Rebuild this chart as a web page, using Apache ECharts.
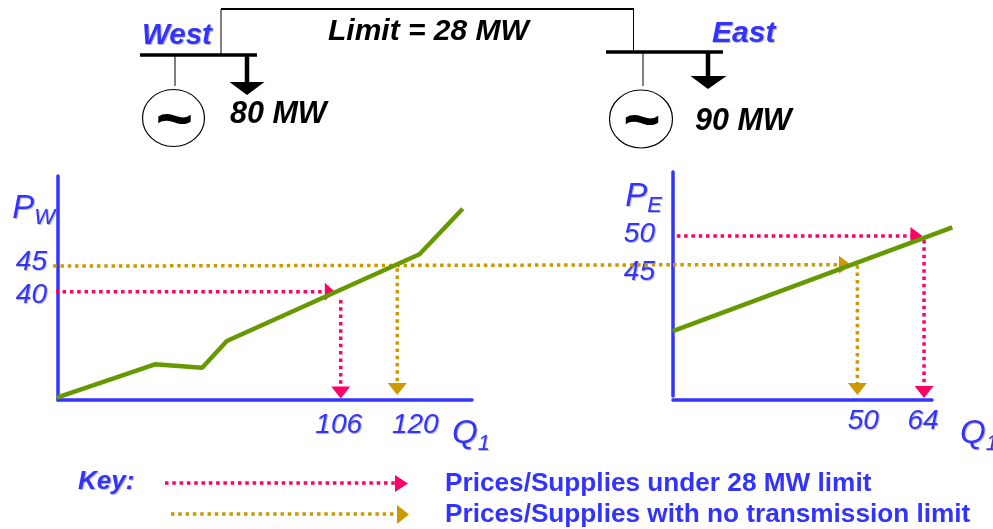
<!DOCTYPE html>
<html>
<head>
<meta charset="utf-8">
<style>
  html, body { margin: 0; padding: 0; background: #fff; }
  #chart { width: 993px; height: 529px; }
</style>
<script src="https://cdn.jsdelivr.net/npm/echarts@6/dist/echarts.min.js"></script>
</head>
<body>
<div id="chart"></div>
<script>
// supply curves
const westCurveQ = [35.7, 60.0, 71.7, 77.8, 125.5, 136.2]
const westCurveP = [19.45, 25.93, 25.27, 30.46, 47.3, 56.15]
const eastCurveQ = [11.24, 69.93]
const eastCurveP = [33.45, 51.52]

// tick labels
const westPriceTicks = [45, 40]
const westSupplyTicks = [106, 120]
const eastPriceTicks = [50, 45]
const eastSupplyTicks = [50, 64]

// dotted guides: limited case (pink)
const westLimitedAcrossQ = [35.33, 103.3]
const westLimitedAcrossP = [40, 40]
const westLimitedDownQ = [106, 106]
const westLimitedDownP = [38.42, 20.46]
const eastLimitedAcrossQ = [12.1, 62.4]
const eastLimitedAcrossP = [50, 50]
const eastLimitedDownQ = [64, 64]
const eastLimitedDownP = [49.3, 22.83]

// dotted guides: no limit case (brown), the price line runs across both panels
const westOpenAcrossQ = [34.8, 188.3]
const westOpenAcrossP = [45, 45.25]
const westOpenDownQ = [120, 120]
const westOpenDownP = [44.6, 21.14]
const eastOpenAcrossQ = [11.3, 47.4]
const eastOpenAcrossP = [45, 45]
const eastOpenDownQ = [50, 50]
const eastOpenDownP = [44.9, 23.35]

const BLUE = '#3333ff'
const PINK = '#ff0066'
const BROWN = '#cc9900'
const GREEN = '#669900'
const FONT = '"Liberation Sans", Arial, sans-serif'

const shadow = {
  textShadowColor: 'rgba(0,0,0,0.3)',
  textShadowBlur: 1,
  textShadowOffsetX: 1,
  textShadowOffsetY: 1
}

function zip(xs, ys) {
  return xs.map((x, i) => [x, ys[i]])
}

// dotted line with a triangle on its last point
function guide(gridIndex, xs, ys, color, rotate, size, arrow) {
  const pts = zip(xs, ys)
  return {
    type: 'line',
    xAxisIndex: gridIndex,
    yAxisIndex: gridIndex,
    silent: true,
    z: 2,
    lineStyle: { color: color, width: 3.5, type: [3.5, 3.8] },
    itemStyle: { color: color },
    data: pts.map((p, i) => {
      const last = arrow && i === pts.length - 1
      return {
        value: p,
        symbol: last ? 'triangle' : 'none',
        symbolSize: size,
        symbolRotate: rotate
      }
    })
  }
}

function curve(gridIndex, xs, ys) {
  return {
    type: 'line',
    xAxisIndex: gridIndex,
    yAxisIndex: gridIndex,
    silent: true,
    symbol: 'none',
    z: 3,
    lineStyle: { color: GREEN, width: 4.5, cap: 'butt' },
    data: zip(xs, ys)
  }
}

// shift moves a tick label away from its tick, the labels in the picture are hand placed
function tickRich(shifts) {
  const rich = {}
  Object.keys(shifts).forEach(k => {
    rich['v' + k] = Object.assign({
      fontFamily: FONT, fontStyle: 'italic', fontSize: 28, color: BLUE,
      padding: shifts[k]
    }, shadow)
  })
  return rich
}

function axisName(main, sub) {
  return '{m|' + main + '}{s|' + sub + '}'
}

const nameRich = {
  m: Object.assign({ fontFamily: FONT, fontStyle: 'italic', fontSize: 33, color: BLUE, lineHeight: 37, verticalAlign: 'top' }, shadow),
  s: Object.assign({ fontFamily: FONT, fontStyle: 'italic', fontSize: 22, color: BLUE, lineHeight: 37, verticalAlign: 'bottom' }, shadow)
}

function xAxisOpt(gridIndex, min, max, ticks, shifts, offset, margin) {
  return {
    type: 'value',
    gridIndex: gridIndex,
    min: min,
    max: max,
    offset: offset,
    splitLine: { show: false },
    axisTick: { show: false },
    axisLine: { onZero: false, lineStyle: { color: BLUE, width: 3.5 } },
    axisLabel: {
      customValues: ticks,
      margin: margin,
      formatter: v => '{v' + v + '|' + v + '}',
      rich: tickRich(shifts)
    }
  }
}

function yAxisOpt(gridIndex, min, max, ticks, shifts, margin) {
  return {
    type: 'value',
    gridIndex: gridIndex,
    min: min,
    max: max,
    splitLine: { show: false },
    axisTick: { show: false },
    axisLine: { onZero: false, lineStyle: { color: BLUE, width: 3.5 } },
    axisLabel: {
      customValues: ticks,
      margin: margin,
      formatter: v => '{v' + v + '|' + v + '}',
      rich: tickRich(shifts)
    }
  }
}

// same scale as a panel but wider, for the marks that run past the end of its axis
function hiddenAxis(gridIndex, min, max) {
  return { type: 'value', gridIndex: gridIndex, min: min, max: max, show: false }
}

function bold(text, x, y, color, size, italic) {
  return {
    type: 'text',
    x: x,
    y: y,
    style: Object.assign({
      text: text,
      fill: color,
      font: (italic ? 'italic ' : '') + 'bold ' + size + 'px ' + FONT,
      verticalAlign: 'middle'
    }, italic && color === BLUE ? shadow : {})
  }
}

function wire(x1, y1, x2, y2, width, color, dash) {
  return {
    type: 'line',
    shape: { x1: x1, y1: y1, x2: x2, y2: y2 },
    style: { stroke: color || '#000', lineWidth: width, lineDash: dash }
  }
}

function tri(p1, p2, p3, color) {
  return {
    type: 'polygon',
    shape: { points: [p1, p2, p3] },
    style: { fill: color || '#000' }
  }
}

function generator(cx, cy, rx, ry) {
  return [
    {
      type: 'ellipse',
      shape: { cx: cx, cy: cy, rx: rx, ry: ry },
      style: { fill: '#fff', stroke: '#000', lineWidth: 1.2 }
    },
    {
      type: 'text',
      x: cx + 1,
      y: cy + 4,
      style: {
        text: '~',
        fill: '#000',
        font: 'bold 64px ' + FONT,
        align: 'center',
        verticalAlign: 'middle'
      }
    }
  ]
}

const diagram = [
  wire(221, 9, 634, 9, 2),
  wire(221, 9, 221, 55, 1),
  wire(633.5, 9, 633.5, 52, 1),
  wire(140, 55, 257, 55, 3.5),
  wire(606, 52, 723, 52, 3.5),
  wire(175, 55, 175, 86, 1),
  wire(643, 52, 643, 86, 1),
  wire(247, 55, 247, 83, 4.5),
  tri([229.5, 82], [264.5, 82], [247, 95]),
  wire(708, 52, 708, 77, 4.5),
  tri([690.5, 76], [726.5, 76], [708, 89]),
  ...generator(173.5, 118, 31, 28.5),
  ...generator(641, 119, 31.5, 29),
  bold('West', 142, 36, BLUE, 29.5, true),
  bold('East', 712, 34, BLUE, 30, true),
  bold('Limit = 28 MW', 328, 32, '#000', 30, true),
  bold('80 MW', 230, 115, '#000', 30.5, true),
  bold('90 MW', 695, 122, '#000', 30.5, true),
  bold('Key:', 78, 481.5, BLUE, 26, true),
  wire(165, 483, 396, 483, 3.5, PINK, [3.5, 3.8]),
  tri([395, 475], [395, 492], [408, 483.5], PINK),
  wire(171, 514, 398, 514, 3.5, BROWN, [3.5, 3.8]),
  tri([397, 505], [397, 524], [409, 514.5], BROWN),
  bold('Prices/Supplies under 28 MW limit', 445, 484, BLUE, 26.2, false),
  bold('Prices/Supplies with no transmission limit', 445, 515, BLUE, 26.2, false)
]

const chart = echarts.init(document.getElementById('chart'))

const westX = xAxisOpt(0, 36, 138.5, westSupplyTicks, { 106: [0, 4, 0, 0], 120: [0, 0, 0, 36] }, 0, 11)
westX.name = axisName('Q', '1')
westX.nameLocation = 'end'
westX.nameGap = -20
westX.nameMoveOverlap = false
westX.nameTextStyle = { rich: nameRich, padding: [72, 0, 0, 0] }

const eastX = xAxisOpt(1, 11.3, 65.67, eastSupplyTicks, { 50: [0, 0, 0, 12], 64: [0, 2, 0, 0] }, 4, 7)
eastX.name = axisName('Q', '1')
eastX.nameLocation = 'end'
eastX.nameGap = 28
eastX.nameMoveOverlap = false
eastX.nameTextStyle = { rich: nameRich, padding: [72, 0, 0, 0] }

const westY = yAxisOpt(0, 19, 62.5, westPriceTicks, { 45: [0, 0, 8, 0], 40: [6, 0, 0, 0] }, 11)
westY.name = axisName('P', 'W')
westY.nameLocation = 'end'
westY.nameGap = -53
westY.nameMoveOverlap = false
westY.nameTextStyle = { rich: nameRich, align: 'right', padding: [0, 3, 0, 0] }

const eastY = yAxisOpt(1, 22.13, 61.15, eastPriceTicks, { 50: [0, 0, 3, 0], 45: [14, 0, 0, 0] }, 18)
eastY.name = axisName('P', 'E')
eastY.nameLocation = 'end'
eastY.nameGap = -45
eastY.nameMoveOverlap = false
eastY.nameTextStyle = { rich: nameRich, align: 'right', padding: [0, 11, 0, 0] }

chart.setOption({
  animation: false,
  backgroundColor: '#fff',
  textStyle: { fontFamily: FONT },
  grid: [
    { left: 58, top: 176, width: 414, height: 224, outerBoundsMode: 'none' },
    { left: 673, top: 172, width: 259, height: 224, outerBoundsMode: 'none' },
    // wider copies of the two panels
    { left: 50, top: 176, width: 630, height: 224, outerBoundsMode: 'none' },
    { left: 673, top: 172, width: 285, height: 224, outerBoundsMode: 'none' }
  ],
  xAxis: [westX, eastX, hiddenAxis(2, 34.02, 190), hiddenAxis(3, 11.3, 71.12)],
  yAxis: [westY, eastY, hiddenAxis(2, 19, 62.5), hiddenAxis(3, 22.13, 61.15)],
  graphic: { elements: diagram },
  series: [
    guide(2, westOpenAcrossQ, westOpenAcrossP, BROWN, 0, 0, false),
    guide(0, westOpenDownQ, westOpenDownP, BROWN, 180, [19, 12], true),
    guide(0, westLimitedAcrossQ, westLimitedAcrossP, PINK, -90, [18, 10], true),
    guide(0, westLimitedDownQ, westLimitedDownP, PINK, 180, [19, 12], true),
    guide(1, eastOpenAcrossQ, eastOpenAcrossP, BROWN, -90, [18, 12], true),
    guide(1, eastOpenDownQ, eastOpenDownP, BROWN, 180, [19, 12], true),
    guide(1, eastLimitedAcrossQ, eastLimitedAcrossP, PINK, -90, [18, 12], true),
    guide(1, eastLimitedDownQ, eastLimitedDownP, PINK, 180, [19, 12], true),
    curve(0, westCurveQ, westCurveP),
    curve(3, eastCurveQ, eastCurveP)
  ]
})
</script>
</body>
</html>
